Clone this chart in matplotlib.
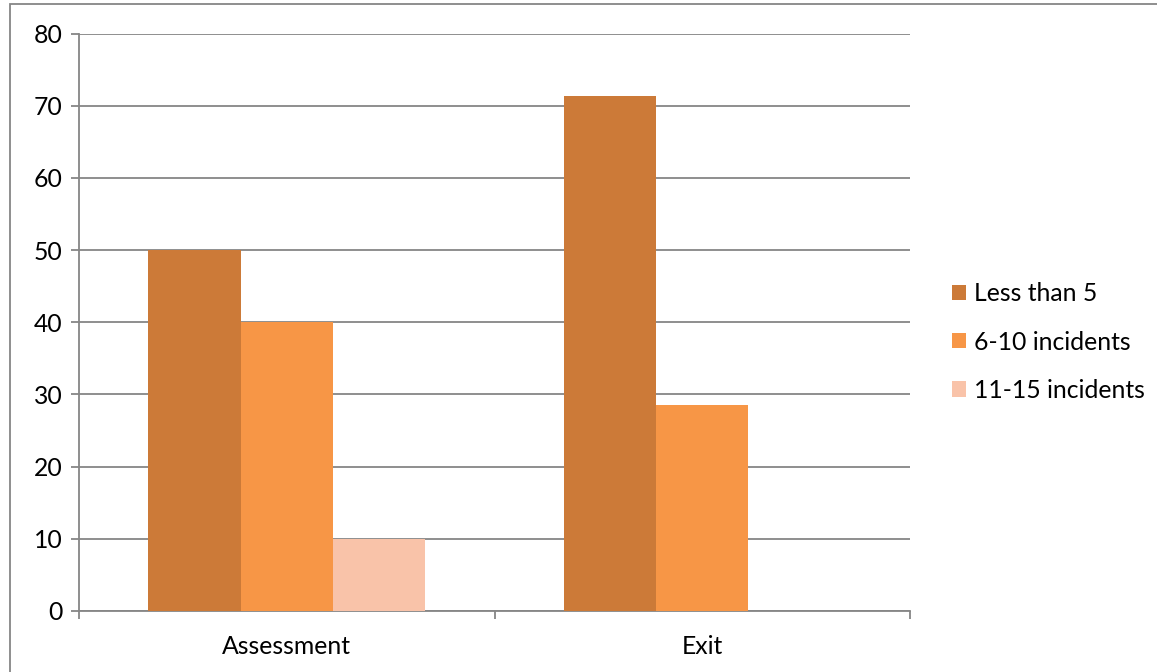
import matplotlib
matplotlib.use("Agg")
import matplotlib.pyplot as plt
import numpy as np
from matplotlib.patches import Patch, Rectangle

categories = ["Assessment", "Exit"]
series_names = ["Less than 5", "6-10 incidents", "11-15 incidents"]
less_than_5 = [50, 71.4]
incidents_6_10 = [40, 28.6]
incidents_11_15 = [10, 0]
colors = ["#CC7A38", "#F79646", "#F9C3A9"]
yticks = [0, 10, 20, 30, 40, 50, 60, 70, 80]

plt.rcParams['font.family'] = ['Lato', 'DejaVu Sans']
FS = 17.8

W, H = 1157, 672
fig = plt.figure(figsize=(W / 100, H / 100), dpi=100)
ax = fig.add_axes([79 / W, 1 - 611 / H, (910 - 79) / W, (611 - 33.5) / H])

x = np.arange(len(categories))
bw = 2 / 9
series = [less_than_5, incidents_6_10, incidents_11_15]
for i, (vals, c) in enumerate(zip(series, colors)):
    ax.bar(x + (i - 1) * bw, vals, width=bw, color=c, zorder=3, linewidth=0)

ax.set_xlim(-0.5, len(categories) - 0.5)
ax.set_ylim(0, 80)
ax.set_yticks(yticks)
ax.set_yticklabels([str(t) for t in yticks], fontsize=FS)
ax.yaxis.grid(True, color="#868686", linewidth=1.3, zorder=0)
ax.set_axisbelow(True)

ax.set_xticks(x)
ax.set_xticklabels(categories, fontsize=FS)
ax.set_xticks(np.arange(len(categories) + 1) - 0.5, minor=True)
ax.tick_params(axis='x', which='major', length=0, pad=17)
ax.tick_params(axis='x', which='minor', length=6, width=1.3, color="#868686")
ax.tick_params(axis='y', length=6, width=1.3, color="#868686", pad=6)

for s in ["top", "right"]:
    ax.spines[s].set_visible(False)
for s in ["left", "bottom"]:
    ax.spines[s].set_color("#868686")
    ax.spines[s].set_linewidth(1.3)

handles = [Patch(facecolor=c, edgecolor='none') for c in colors]
fig.legend(handles, series_names, loc='center left',
           bbox_to_anchor=(930 / W, 1 - 342 / H), frameon=False, fontsize=FS,
           handlelength=0.56, handleheight=0.56, handletextpad=0.3,
           labelspacing=1.02)

border = Rectangle((10 / W, -0.5), 2, (1 - 4 / H) + 0.5, transform=fig.transFigure,
                   fill=False, edgecolor="#868686", linewidth=1.3, clip_on=False)
fig.patches.append(border)

fig.savefig("out.png", dpi=100)
